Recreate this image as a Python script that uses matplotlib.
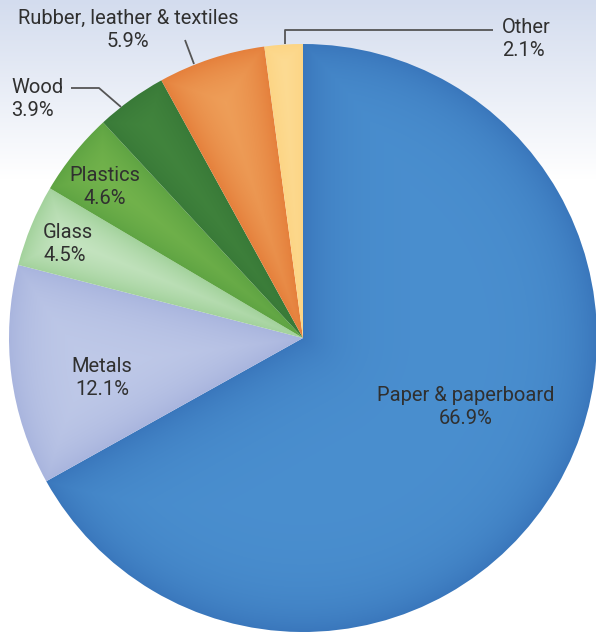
import numpy as np
import matplotlib

matplotlib.use("Agg")
import matplotlib.pyplot as plt
from matplotlib.colors import to_rgb

plt.rcParams["font.family"] = ["Roboto", "DejaVu Sans"]

W, H = 596, 632

# municipal solid waste by material, share of total (%)
materials = ["Paper & paperboard", "Metals", "Glass", "Plastics", "Wood",
             "Rubber, leather & textiles", "Other"]
shares = [66.9, 12.1, 4.5, 4.6, 3.9, 5.9, 2.1]

# rim colour and inner highlight colour for each slice
rim_colors = ["#3a77bc", "#a9b5de", "#a3d29c", "#5fa443", "#397a38", "#e5803c", "#fcd585"]
core_colors = ["#4a8fcf", "#c1cbe9", "#d6edd3", "#7cba50", "#468a40", "#f1a862", "#fee3a6"]

CX, CY, R = 303, 294, 294

fig = plt.figure(figsize=(W / 100, H / 100), dpi=100)
ax = fig.add_axes([0, 0, 1, 1])

# pale blue wash at the top fading to white
grad = np.clip((H - np.arange(H)) / 180.0, 0, 1)
top = np.array(to_rgb("#d3dcee"))
bg = top[None, :] * (1 - grad[:, None]) + grad[:, None]
bg_img = np.repeat(bg[:, None, :], W, axis=1)
ax.imshow(bg_img, extent=(0, W, 0, H), origin="lower", zorder=-10, aspect="auto")

wedges, _ = ax.pie(shares, colors=rim_colors, startangle=90, counterclock=False,
                   radius=R, center=(CX, CY), wedgeprops=dict(linewidth=0))

# soft bevel: each slice lightens away from its edges
yy, xx = np.mgrid[0:H, 0:W] + 0.5
dx, dy = xx - CX, yy - CY
rr = np.hypot(dx, dy)
phi = np.degrees(np.arctan2(dy, dx))


def side_dist(a):
    diff = np.radians((phi - a + 180) % 360 - 180)
    return np.where(np.abs(diff) < np.pi / 2, rr * np.abs(np.sin(diff)), rr)


for w, core in zip(wedges, core_colors):
    d = np.minimum(R - rr, np.minimum(side_dist(w.theta1), side_dist(w.theta2)))
    f = np.clip(1 - np.exp(-np.clip(d, 0, None) / 32.0), 0, 1)
    img = np.zeros((H, W, 4))
    img[..., :3] = to_rgb(core)
    img[..., 3] = f
    im = ax.imshow(img, extent=(0, W, 0, H), origin="lower", zorder=2, aspect="auto")
    im.set_clip_path(w)

txt = dict(fontsize=14.5, color="#303030", linespacing=1.3, zorder=5)
ax.text(466, H - 407, "Paper & paperboard\n66.9%", ha="center", va="center", **txt)
ax.text(102, H - 378, "Metals\n12.1%", ha="center", va="center", **txt)
ax.text(43, H - 244, "Glass\n4.5%", ha="left", va="center", **txt)
ax.text(105, H - 187, "Plastics\n4.6%", ha="center", va="center", **txt)
ax.text(11, H - 99, "Wood\n3.9%", ha="left", va="center", **txt)
ax.text(128, H - 30, "Rubber, leather & textiles\n5.9%", ha="center", va="center", **txt)
ax.text(502, H - 39, "Other\n2.1%", ha="left", va="center", **txt)

# leader lines for the small outer slices
lead = dict(color="#555555", lw=1.3, zorder=4, solid_capstyle="butt")
ax.plot([71, 99, 121], [H - 88, H - 88, H - 107], **lead)
ax.plot([185, 194], [H - 40, H - 64], **lead)
ax.plot([285, 285, 493], [H - 44, H - 30, H - 30], **lead)

ax.set_xlim(0, W)
ax.set_ylim(0, H)
ax.axis("off")

fig.savefig("out.png", dpi=100)
